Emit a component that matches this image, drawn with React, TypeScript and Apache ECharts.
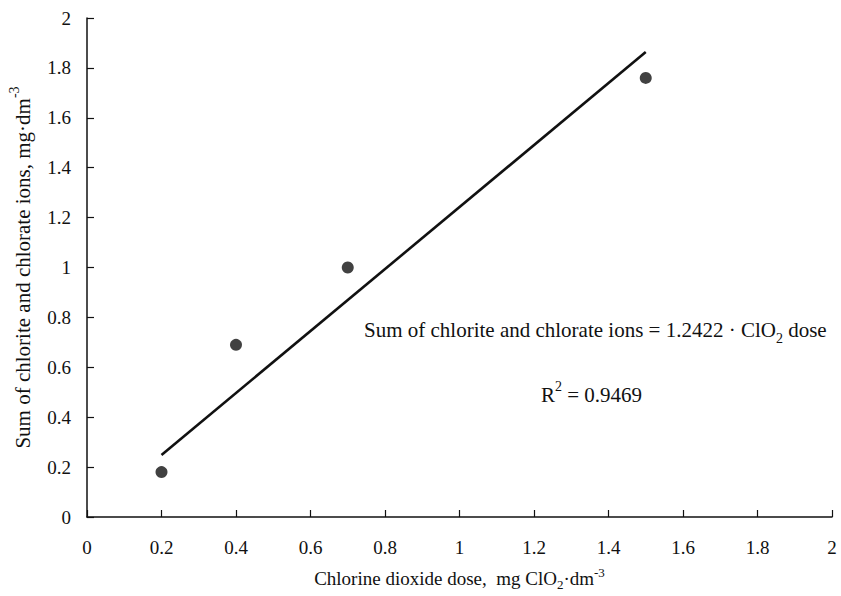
import React, { useEffect, useRef } from "react";
import * as echarts from "echarts";

const doseX = [0.2, 0.4, 0.7, 1.5];
const sumY = [0.18, 0.69, 1.0, 1.76];
const slope = 1.2422;
const trendX = [0.2, 1.5];
const rSquared = 0.9469;

const FONT = "'Liberation Serif', 'Times New Roman', 'DejaVu Serif', serif";
const INK = "#111111";
const FS = 19;
const BIG = 21;

export default function App() {
  const ref = useRef<HTMLDivElement>(null);
  useEffect(() => {
    if (!ref.current) return;
    const chart = echarts.init(ref.current, null, { renderer: "svg" });
    chart.setOption({
      animation: false,
      backgroundColor: "#ffffff",
      textStyle: { fontFamily: FONT },
      grid: {
        left: 87,
        right: 9,
        top: 18,
        bottom: 79,
        containLabel: false,
        outerBoundsMode: "none",
      },
      xAxis: {
        type: "value",
        min: 0,
        max: 2,
        interval: 0.2,
        splitLine: { show: false },
        axisLine: { lineStyle: { color: INK, width: 1.5 } },
        axisTick: { inside: true, length: 7, lineStyle: { color: INK, width: 1.2 } },
        axisLabel: { color: INK, fontSize: FS, fontFamily: FONT, margin: 21, showMaxLabel: true },
        name: "{a|Chlorine dioxide dose,  mg ClO}{sub|2}{a|·dm}{sup|-3}",
        nameLocation: "middle",
        nameGap: 49,
        nameTextStyle: {
          color: INK,
          fontFamily: FONT,
          rich: {
            a: { fontSize: FS, fontFamily: FONT, color: INK, lineHeight: 22, verticalAlign: "bottom" },
            sub: { fontSize: 13, fontFamily: FONT, color: INK, verticalAlign: "bottom", lineHeight: 22, padding: [0, 0, -3, 0] },
            sup: { fontSize: 13, fontFamily: FONT, color: INK, verticalAlign: "top", lineHeight: 22 },
          },
        },
      },
      yAxis: {
        type: "value",
        min: 0,
        max: 2,
        interval: 0.2,
        splitLine: { show: false },
        axisLine: { show: true, lineStyle: { color: INK, width: 1.5 } },
        axisTick: { show: true, inside: true, length: 7, lineStyle: { color: INK, width: 1.2 } },
        axisLabel: { color: INK, fontSize: FS, fontFamily: FONT, margin: 16 },
        name: "{a|Sum of chlorite and chlorate ions, mg·dm}{sup|-3}",
        nameLocation: "middle",
        nameGap: 54,
        nameRotate: 90,
        nameTextStyle: {
          color: INK,
          fontFamily: FONT,
          rich: {
            a: { fontSize: BIG, fontFamily: FONT, color: INK, lineHeight: 26, verticalAlign: "bottom" },
            sup: { fontSize: 14, fontFamily: FONT, color: INK, verticalAlign: "top", lineHeight: 26 },
          },
        },
      },
      graphic: [
        {
          type: "text",
          left: 364,
          top: 319,
          style: {
            text: "{a|Sum of chlorite and chlorate ions = 1.2422 · ClO}{sub|2}{a| dose}",
            rich: {
              a: { fontSize: BIG, fontFamily: FONT, fill: INK, lineHeight: 26, verticalAlign: "bottom" },
              sub: { fontSize: 14, fontFamily: FONT, fill: INK, verticalAlign: "bottom", lineHeight: 26, padding: [0, 0, -5, 0] },
            },
          },
        },
        {
          type: "text",
          left: 541,
          top: 379,
          style: {
            text: "{a|R}{sup|2}{a| = " + rSquared.toFixed(4) + "}",
            rich: {
              a: { fontSize: BIG, fontFamily: FONT, fill: INK, lineHeight: 26, verticalAlign: "bottom" },
              sup: { fontSize: 14, fontFamily: FONT, fill: INK, verticalAlign: "top", lineHeight: 26 },
            },
          },
        },
      ],
      series: [
        {
          type: "line",
          data: trendX.map((x) => [x, slope * x]),
          showSymbol: false,
          symbol: "none",
          lineStyle: { color: INK, width: 2.6 },
          silent: true,
          z: 2,
        },
        {
          type: "scatter",
          data: doseX.map((x, i) => [x, sumY[i]]),
          symbol: "circle",
          symbolSize: 12,
          itemStyle: { color: INK },
          z: 3,
        },
      ],
    });
    return () => chart.dispose();
  }, []);
  return (
    <div
      ref={ref}
      style={{ position: "absolute", left: 0, top: 0, width: 841, height: 596 }}
    />
  );
}
